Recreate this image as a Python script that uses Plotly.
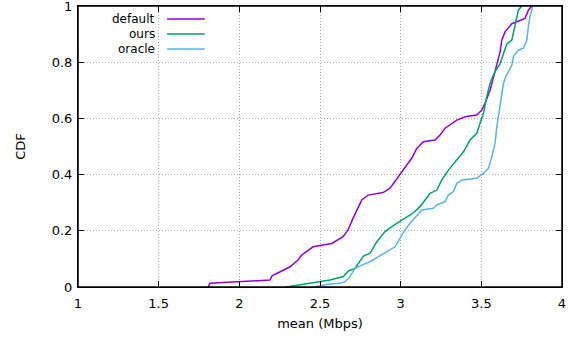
import plotly.graph_objects as go

default_x = [1.806, 1.818, 2.19, 2.203, 2.263, 2.314, 2.364, 2.387, 2.457, 2.573, 2.643, 2.674,
             2.705, 2.759, 2.798, 2.872, 2.891, 2.934, 2.984, 3.038, 3.069, 3.100, 3.141, 3.213,
             3.244, 3.275, 3.317, 3.348, 3.399, 3.472, 3.503, 3.523, 3.554, 3.575, 3.596, 3.616,
             3.627, 3.647, 3.689, 3.730, 3.771, 3.792, 3.813]
default_y = [0.0, 0.013, 0.025, 0.04, 0.057, 0.072, 0.096, 0.114, 0.143, 0.155, 0.179, 0.203,
             0.245, 0.31, 0.327, 0.334, 0.336, 0.352, 0.393, 0.434, 0.459, 0.493, 0.517, 0.523,
             0.541, 0.565, 0.583, 0.594, 0.606, 0.612, 0.63, 0.654, 0.70, 0.747, 0.794, 0.836,
             0.879, 0.908, 0.937, 0.947, 0.956, 0.986, 1.0]

ours_x = [2.29, 2.459, 2.562, 2.645, 2.676, 2.717, 2.769, 2.810, 2.852, 2.903, 2.945, 3.007,
          3.069, 3.120, 3.182, 3.224, 3.255, 3.296, 3.348, 3.389, 3.430, 3.472, 3.492, 3.513,
          3.534, 3.554, 3.585, 3.616, 3.637, 3.658, 3.689, 3.709, 3.730, 3.751]
ours_y = [0.0, 0.017, 0.025, 0.037, 0.057, 0.066, 0.11, 0.12, 0.161, 0.197, 0.215, 0.238,
          0.26, 0.286, 0.333, 0.345, 0.381, 0.416, 0.452, 0.481, 0.523, 0.547, 0.583, 0.618,
          0.677, 0.725, 0.767, 0.794, 0.83, 0.865, 0.879, 0.932, 0.986, 1.0]

oracle_x = [2.463, 2.562, 2.624, 2.655, 2.686, 2.717, 2.759, 2.810, 2.862, 2.914, 2.965, 2.996,
            3.027, 3.058, 3.100, 3.131, 3.203, 3.224, 3.275, 3.296, 3.327, 3.348, 3.379, 3.472,
            3.513, 3.544, 3.565, 3.585, 3.596, 3.616, 3.627, 3.637, 3.652, 3.668, 3.689, 3.699,
            3.730, 3.761, 3.782, 3.792, 3.802, 3.819]
oracle_y = [0.0, 0.011, 0.013, 0.019, 0.037, 0.066, 0.078, 0.09, 0.108, 0.126, 0.143, 0.173,
            0.203, 0.227, 0.256, 0.274, 0.28, 0.292, 0.304, 0.327, 0.339, 0.369, 0.381, 0.387,
            0.405, 0.422, 0.464, 0.511, 0.57, 0.642, 0.677, 0.725, 0.749, 0.767, 0.79, 0.82,
            0.843, 0.85, 0.879, 0.93, 0.964, 1.0]

series_names = ["default", "ours", "oracle"]
colors = ["#9400d3", "#009e73", "#56b4e9"]

x_ticks = [1, 1.5, 2, 2.5, 3, 3.5, 4]
y_ticks = [0, 0.2, 0.4, 0.6, 0.8, 1]

FONT = "DejaVu Sans"
fig = go.Figure()
for name, xs, ys, c in zip(series_names, [default_x, ours_x, oracle_x],
                           [default_y, ours_y, oracle_y], colors):
    fig.add_trace(go.Scatter(x=xs, y=ys, mode="lines", name=name,
                             line=dict(color=c, width=1.5), showlegend=False))

leg_y = [0.954, 0.900, 0.847]
for name, c, yy in zip(series_names, colors, leg_y):
    fig.add_annotation(x=0.163, y=yy, xref="paper", yref="paper", text=name,
                       showarrow=False, xanchor="right", yanchor="middle",
                       font=dict(family=FONT, size=12, color="black"))
    fig.add_shape(type="line", xref="paper", yref="paper", x0=0.184, x1=0.262,
                  y0=yy, y1=yy, line=dict(color=c, width=1.5))

# frame
fig.add_shape(type="rect", xref="paper", yref="paper", x0=0, x1=1, y0=0, y1=1,
              line=dict(color="black", width=1.5), layer="above")

axis_common = dict(showline=True, linecolor="black", linewidth=1, mirror="ticks",
                   ticks="inside", ticklen=6, tickcolor="black", automargin=False,
                   showgrid=True, gridcolor="#a8a8a8", griddash="1px,2px", gridwidth=1,
                   zeroline=False, ticklabeloverflow="allow",
                   tickfont=dict(family=FONT, size=13, color="black"))

fig.update_layout(
    template="none",
    width=574, height=339,
    margin=dict(l=78, r=12, t=6, b=52),
    plot_bgcolor="white", paper_bgcolor="white",
    font=dict(family=FONT, size=13, color="black"),
    xaxis=dict(range=[1, 4], tickvals=x_ticks, ticklabelstandoff=4,
               title=dict(text="mean (Mbps)", standoff=9, font=dict(family=FONT, size=13)),
               **axis_common),
    yaxis=dict(range=[0, 1], tickvals=y_ticks, ticklabelstandoff=2,
               title=dict(text="CDF", standoff=23, font=dict(family=FONT, size=13)),
               **axis_common),
)

fig.write_html("out.html")
